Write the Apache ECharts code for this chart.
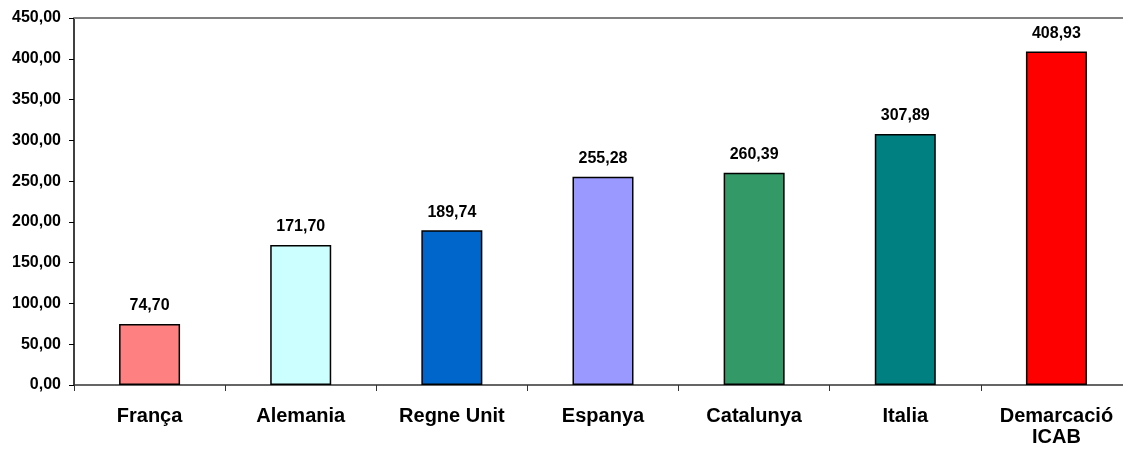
<!DOCTYPE html>
<html>
<head>
<meta charset="utf-8">
<script src="https://cdn.jsdelivr.net/npm/echarts@6/dist/echarts.min.js"></script>
<style>
  html, body { margin: 0; padding: 0; background: #fff; overflow: hidden; }
  #chart { width: 1132px; height: 450px; }
</style>
</head>
<body>
<div id="chart"></div>
<script>
// dades del gràfic
const categories = ['França', 'Alemania', 'Regne Unit', 'Espanya', 'Catalunya', 'Italia', 'Demarcació\nICAB']
const values = [74.70, 171.70, 189.74, 255.28, 260.39, 307.89, 408.93]
const barColors = ['#FF8080', '#CCFFFF', '#0066CC', '#9999FF', '#339966', '#008080', '#FF0000']

const fmt = v => v.toFixed(2).replace('.', ',')

const chart = echarts.init(document.getElementById('chart'))
const option = {
  animation: false,
  textStyle: { fontFamily: 'Liberation Sans, Arial, sans-serif' },
  grid: {
    left: 74,
    right: 0,
    top: 18,
    bottom: 65
  },
  xAxis: {
    type: 'category',
    data: categories,
    boundaryGap: true,
    axisLine: { show: true, lineStyle: { color: '#333', width: 1.5 } },
    axisTick: { show: true, length: 6, lineStyle: { color: '#333' } },
    axisLabel: {
      color: '#000',
      fontWeight: 'bold',
      fontSize: 20,
      margin: 21,
      lineHeight: 21,
      interval: 0
    }
  },
  yAxis: {
    type: 'value',
    min: 0,
    max: 450,
    interval: 50,
    axisLine: { show: true, lineStyle: { color: '#000', width: 1.5 } },
    axisTick: { show: true, length: 5, lineStyle: { color: '#000' } },
    splitLine: { show: false },
    axisLabel: {
      color: '#000',
      fontWeight: 'bold',
      fontSize: 16,
      margin: 13,
      formatter: v => fmt(v)
    }
  },
  series: [
    {
      type: 'bar',
      barWidth: 61,
      data: values.map((v, i) => ({
        value: v,
        itemStyle: { color: barColors[i], borderColor: '#000', borderWidth: 1.5 }
      })),
      label: {
        show: true,
        position: 'top',
        distance: 10,
        color: '#000',
        fontWeight: 'bold',
        fontSize: 16,
        formatter: p => fmt(p.value)
      }
    },
    {
      // línia superior grisa de l'àrea del gràfic
      type: 'line',
      data: [],
      markLine: {
        silent: true,
        symbol: 'none',
        label: { show: false },
        lineStyle: { color: '#808080', width: 2, type: 'solid' },
        data: [{ yAxis: 450 }]
      }
    }
  ]
}
option && chart.setOption(option)
</script>
</body>
</html>
